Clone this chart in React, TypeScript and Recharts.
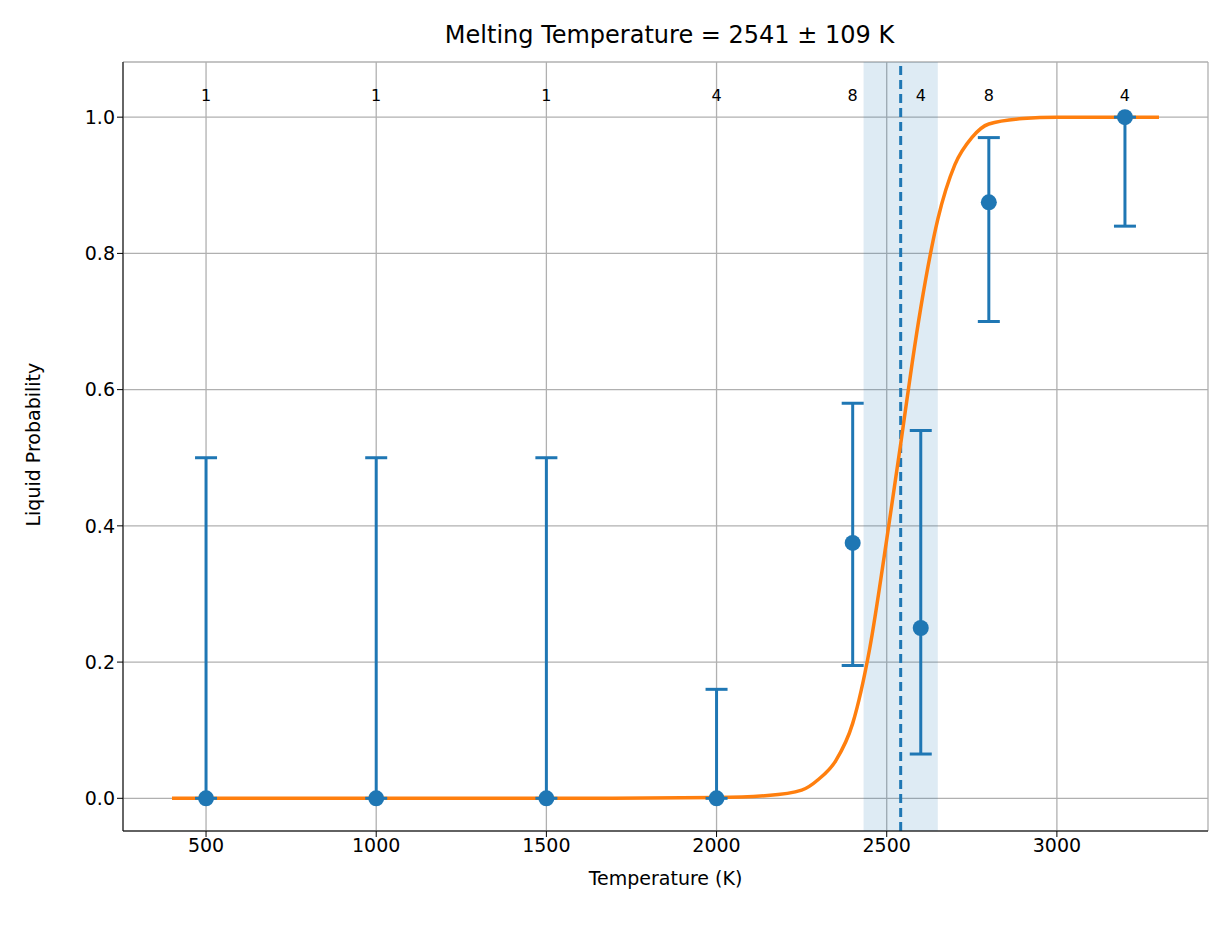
import React from "react";
import {
  ComposedChart,
  Line,
  Scatter,
  ErrorBar,
  XAxis,
  YAxis,
  CartesianGrid,
  ReferenceLine,
  ReferenceArea,
} from "recharts";

// ── Data ──────────────────────────────────────────────────────────────────────
const tempPts = [500, 1000, 1500, 2000, 2400, 2600, 2800, 3200];
const probPts = [0, 0, 0, 0, 0.375, 0.25, 0.875, 1.0];
const lowPts = [0, 0, 0, 0, 0.195, 0.065, 0.7, 0.84];
const highPts = [0.5, 0.5, 0.5, 0.16, 0.58, 0.54, 0.97, 1.0];
const counts = [1, 1, 1, 4, 8, 4, 8, 4];

const fitT = [400, 800, 1200, 1600, 2000, 2150, 2250, 2300, 2350, 2400, 2450, 2500, 2541, 2575, 2600, 2650, 2700, 2750, 2800, 2900, 3000, 3300];
const fitP = [0, 0, 0, 0, 0.001, 0.004, 0.012, 0.028, 0.055, 0.11, 0.22, 0.38, 0.52, 0.64, 0.72, 0.85, 0.93, 0.97, 0.99, 0.998, 1.0, 1.0];

const meltT = 2541;
const meltLo = 2432;
const meltHi = 2650;

const xTicks = [500, 1000, 1500, 2000, 2500, 3000];
const yTicks = [0, 0.2, 0.4, 0.6, 0.8, 1.0];

const C = { blue: "#1f77b4", orange: "#ff7f0e", grid: "#b0b0b0" };
const FONT = "DejaVu Sans, sans-serif";

const pts = tempPts.map((t, i) => ({
  x: t,
  y: probPts[i],
  err: [probPts[i] - lowPts[i], highPts[i] - probPts[i]],
}));
const fit = fitT.map((t, i) => ({ x: t, y: fitP[i] }));
const labels = tempPts.map((t, i) => ({ x: t, y: 1.03, n: counts[i] }));

export default function App() {
  return (
    <div style={{ position: "relative", width: 1208, height: 900, fontFamily: FONT }}>
      <div
        style={{
          position: "absolute",
          top: 13,
          left: 0,
          width: 1208,
          paddingLeft: 115,
          boxSizing: "border-box",
          textAlign: "center",
          fontSize: 24,
          color: "#000",
        }}
      >
        Melting Temperature = 2541 ± 109 K
      </div>
      <ComposedChart
        width={1208}
        height={900}
        margin={{ top: 54, right: 8, bottom: 29, left: 40 }}
      >
        <CartesianGrid stroke={C.grid} strokeWidth={1.3} />
        <XAxis
          dataKey="x"
          type="number"
          domain={[256, 3444]}
          ticks={xTicks}
          allowDataOverflow
          tick={{ fontSize: 19, fill: "#000", fontFamily: FONT }}
          tickLine={{ stroke: "#000" }}
          tickSize={6}
          axisLine={{ stroke: "#000" }}
          height={48}
          label={{ value: "Temperature (K)", position: "insideBottom", offset: -6, fontSize: 19, fill: "#000", fontFamily: FONT }}
        />
        <XAxis xAxisId="top" orientation="top" type="number" domain={[256, 3444]} tick={false} tickLine={false} axisLine={{ stroke: "#000" }} height={0} />
        <YAxis
          type="number"
          domain={[-0.048, 1.081]}
          ticks={yTicks}
          allowDataOverflow
          tickFormatter={(v: number) => v.toFixed(1)}
          tick={{ fontSize: 19, fill: "#000", fontFamily: FONT }}
          tickLine={{ stroke: "#000" }}
          tickSize={6}
          axisLine={{ stroke: "#000" }}
          width={75}
          label={{ value: "Liquid Probability", angle: -90, position: "insideLeft", offset: -15, dy: 80, fontSize: 19, fill: "#000", fontFamily: FONT }}
        />
        <YAxis yAxisId="right" orientation="right" domain={[0, 1]} tick={false} tickLine={false} axisLine={{ stroke: "#000" }} width={0} />
        <ReferenceArea x1={meltLo} x2={meltHi} fill={C.blue} fillOpacity={0.15} stroke="none" />
        <ReferenceLine x={meltT} stroke={C.blue} strokeWidth={3} strokeDasharray="9 5" />
        <Line
          data={fit}
          dataKey="y"
          type="monotone"
          stroke={C.orange}
          strokeWidth={3.5}
          dot={false}
          isAnimationActive={false}
        />
        <Scatter
          data={pts}
          dataKey="y"
          isAnimationActive={false}
          shape={(p: any) => <circle cx={p.cx} cy={p.cy} r={8} fill={C.blue} />}
        >
          <ErrorBar dataKey="err" direction="y" width={11} stroke={C.blue} strokeWidth={3} />
        </Scatter>
        <Scatter
          data={labels}
          dataKey="y"
          isAnimationActive={false}
          shape={(p: any) => (
            <text x={p.cx} y={p.cy} textAnchor="middle" dominantBaseline="middle" fontSize={16} fontFamily={FONT} fill="#000">
              {p.payload.n}
            </text>
          )}
        />
      </ComposedChart>
    </div>
  );
}
